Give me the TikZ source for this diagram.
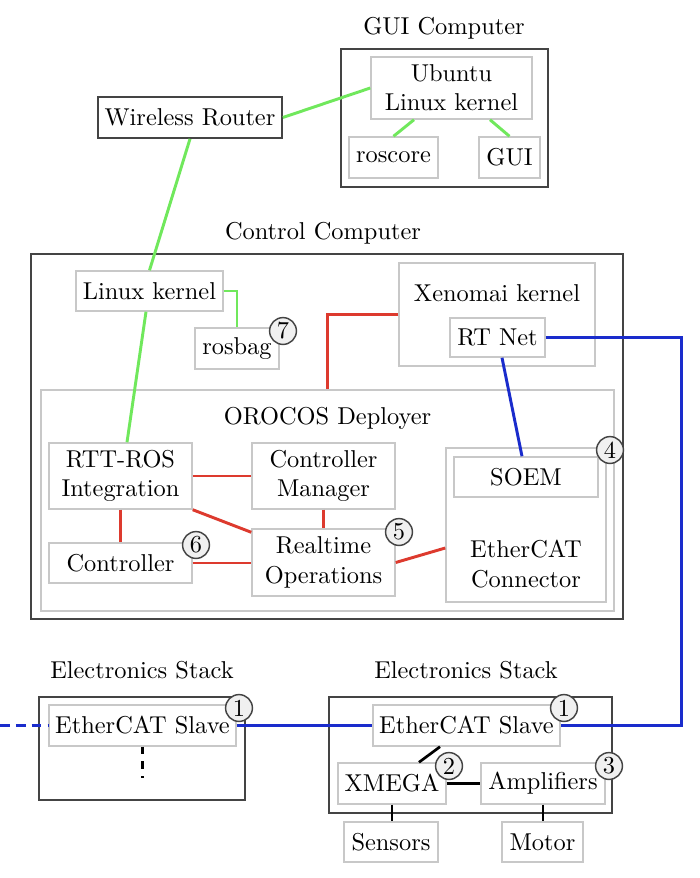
\documentclass[tikz,border=0pt]{standalone}
\usetikzlibrary{calc}
\definecolor{lgreen}{HTML}{70E85C}
\definecolor{lred}{HTML}{DD3A2E}
\definecolor{lblue}{HTML}{1A2CCC}
\definecolor{boxgray}{HTML}{C8C8C8}
\definecolor{darkbox}{HTML}{444444}
\tikzset{
  sbox/.style={draw=boxgray, line width=0.6pt, inner sep=0pt, align=center},
  dbox/.style={draw=darkbox, line width=0.7pt, inner sep=0pt, align=center},
  sz/.style 2 args={minimum width=#1*0.41pt, minimum height=#2*0.41pt},
  num/.style={circle, draw=darkbox, fill=gray!12, line width=0.6pt, inner sep=0pt, minimum size=11pt},
  glink/.style={lgreen, line width=1.2pt},
  rlink/.style={lred, line width=1.2pt},
  blink/.style={lblue, line width=1.2pt},
  klink/.style={black, line width=1.1pt},
  plain/.style={inner sep=0pt, align=center}
}
\begin{document}
\begin{tikzpicture}[x=0.41pt, y=-0.41pt]
\useasboundingbox (0,0) rectangle (700,878);
\fill[white] (0,0) rectangle (700,878);
% GUI computer
\node[plain] (guilbl) at (444,28) {GUI Computer};
\node[dbox, sz={207}{138}] (guibox) at (444.5,118) {};
\node[sbox, sz={161}{62}] (ubuntu) at (451.5,88) {Ubuntu\\Linux kernel};
\node[sbox, sz={89}{41}] (roscore) at (393.5,157.5) {roscore};
\node[sbox, sz={61}{41}] (guin) at (509.5,157.5) {GUI};
\node[dbox, sz={184}{41}] (router) at (190,117.5) {Wireless Router};
% Control computer
\node[plain] (ctrllbl) at (323,233) {Control Computer};
\node[dbox, sz={592}{365}] (ctrlbox) at (327,436.5) {};
\node[sbox, sz={147}{40}] (linux) at (149.5,291) {Linux kernel};
\node[sbox, sz={84}{41}] (rosbag) at (237,348.5) {rosbag};
\node[sbox, sz={196}{103}] (xeno) at (497,314.5) {};
\node[plain] (xenotxt) at (497,293) {Xenomai kernel};
\node[sbox, sz={95}{39}] (rtnet) at (497.5,337.5) {RT Net};
\node[sbox, sz={573}{221}] (orocos) at (327.5,500.5) {};
\node[plain] (orocostxt) at (327.5,418) {OROCOS Deployer};
\node[sbox, sz={143}{66}] (rtt) at (120.5,476) {RTT-ROS\\Integration};
\node[sbox, sz={143}{66}] (cm) at (323.5,476) {Controller\\Manager};
\node[sbox, sz={160}{154}] (ecc) at (526,525) {};
\node[plain] (ecctxt) at (526,564) {EtherCAT\\Connector};
\node[sbox, sz={144}{40}] (soem) at (526,477) {SOEM};
\node[sbox, sz={143}{40}] (controller) at (120.5,563) {Controller};
\node[sbox, sz={143}{67}] (ro) at (323.5,562.5) {Realtime\\Operations};
% Electronics stacks
\node[plain] (es1lbl) at (142,670) {Electronics Stack};
\node[dbox, sz={206}{103}] (es1) at (142,748.5) {};
\node[sbox, sz={187}{41}] (slave1) at (142.5,725.5) {EtherCAT Slave};
\node[plain] (es2lbl) at (466,670) {Electronics Stack};
\node[dbox, sz={283}{116}] (es2) at (470.5,755) {};
\node[sbox, sz={187}{41}] (slave2) at (466.5,725.5) {EtherCAT Slave};
\node[sbox, sz={108}{41}] (xmega) at (392,783.5) {XMEGA};
\node[sbox, sz={124}{41}] (amp) at (543,783.5) {Amplifiers};
\node[sbox, sz={94}{40}] (sensors) at (391,842) {Sensors};
\node[sbox, sz={81}{40}] (motor) at (542.5,842) {Motor};
% numbers
\node[num] (n7) at (283,331) {7};
\node[num] (n4) at (610,450) {4};
\node[num] (n5) at (399,532) {5};
\node[num] (n6) at (196,545) {6};
\node[num] (n1a) at (239,708) {1};
\node[num] (n1b) at (564,708) {1};
\node[num] (n2) at (449,766) {2};
\node[num] (n3) at (609,766) {3};
% green links
\draw[glink] (router.east) -- (ubuntu.west);
\draw[glink] ($(ubuntu.south)+(-37.5,0)$) -- (roscore.north);
\draw[glink] ($(ubuntu.south)+(38.5,0)$) -- (guin.north);
\draw[glink] (router.south) -- (linux.north);
\draw[glink] ($(linux.south)+(-3.5,0)$) -- ($(rtt.north)+(6.5,0)$);
\draw[glink] (linux.east) -| (rosbag.north);
% red links
\draw[rlink] (xeno.west) -| (orocos.north);
\draw[rlink] (rtt.east) -- (cm.west);
\draw[rlink] (rtt.south east) -- ($(ro.north west)+(0,4)$);
\draw[rlink] (rtt.south) -- (controller.north);
\draw[rlink] (cm.south) -- (ro.north);
\draw[rlink] (controller.east) -- (controller.east -| ro.west);
\draw[rlink] (ro.east) -- ($(ecc.west)+(0,23)$);
% blue links
\draw[blink] ($(rtnet.south)+(4.5,0)$) -- ($(soem.north)+(-4,0)$);
\draw[blink] (rtnet.east) -- ++(136,0) |- (slave2.east);
\draw[blink] (slave1.east) -- (slave2.west);
\coordinate (lend) at (0,725.5);
\draw[blink, dash pattern=on 4pt off 2.5pt] (lend) -- (slave1.west);
% black links
\draw[klink, dashed] (slave1.south) -- ++(0,31);
\draw[klink] ($(slave2.south)+(-26.5,0)$) -- ($(xmega.north)+(27,0)$);
\draw[klink] (xmega.east) -- (amp.west);
\draw[klink] (xmega.south) -- (xmega.south |- sensors.north);
\draw[klink] (amp.south) -- (amp.south |- motor.north);
\end{tikzpicture}
\end{document}
